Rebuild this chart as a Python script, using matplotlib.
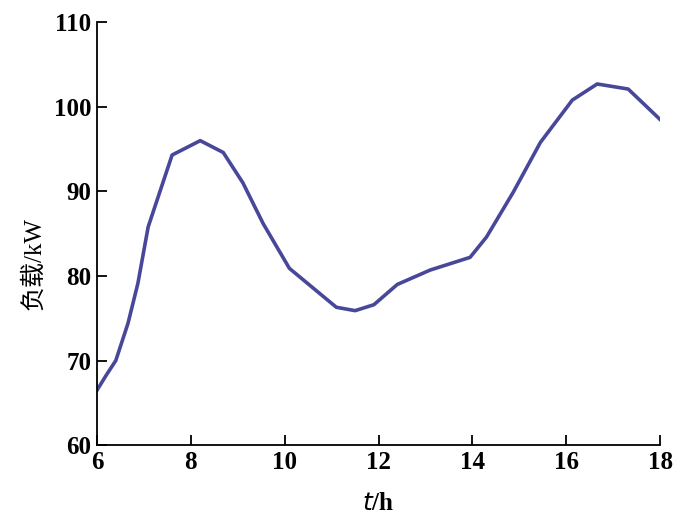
import matplotlib
matplotlib.use("Agg")
import matplotlib.pyplot as plt

# load curve
hours = [6.0, 6.2, 6.4, 6.66, 6.87, 7.09, 7.6, 8.2, 8.69, 9.11, 9.54, 10.1,
         10.6, 11.1, 11.5, 11.9, 12.4, 13.1, 13.95, 14.3, 14.87, 15.45,
         16.13, 16.66, 17.32, 18.0]
load = [66.5, 68.3, 70.0, 74.4, 79.1, 85.8, 94.3, 96.0, 94.6, 91.0, 86.2, 80.9,
        78.6, 76.3, 75.9, 76.6, 79.0, 80.7, 82.2, 84.6, 89.9, 95.8,
        100.8, 102.7, 102.1, 98.5]

xticks = [6, 8, 10, 12, 14, 16, 18]
yticks = [60, 70, 80, 90, 100, 110]

plt.rcParams['font.family'] = ['Liberation Serif', 'Noto Sans CJK SC']

fig = plt.figure(figsize=(7, 5.17), dpi=100)
ax = fig.add_axes([0.1386, 0.139, 0.8044, 0.818])
ax.plot(hours, load, color='#48479a', lw=2.6, solid_joinstyle='round')

ax.set_xlim(6, 18)
ax.set_ylim(60, 110)
ax.set_xticks(xticks)
ax.set_yticks(yticks)
ax.spines['top'].set_visible(False)
ax.spines['right'].set_visible(False)
for s in ['left', 'bottom']:
    ax.spines[s].set_linewidth(1.3)
ax.tick_params(direction='in', length=7, width=1.3, labelsize=18, pad=4)
for lab in ax.get_xticklabels() + ax.get_yticklabels():
    lab.set_fontweight('bold')

ax.set_xlabel('$\\it{t}$/h', fontsize=18, fontweight='bold')
ax.set_ylabel('负载/kW', fontsize=18, fontweight='medium',
              family=['Liberation Serif', 'Noto Sans CJK SC'])
ax.xaxis.set_label_coords(0.5, -0.11)
ax.yaxis.set_label_coords(-0.092, 0.43)

fig.savefig('out.png', dpi=100)
